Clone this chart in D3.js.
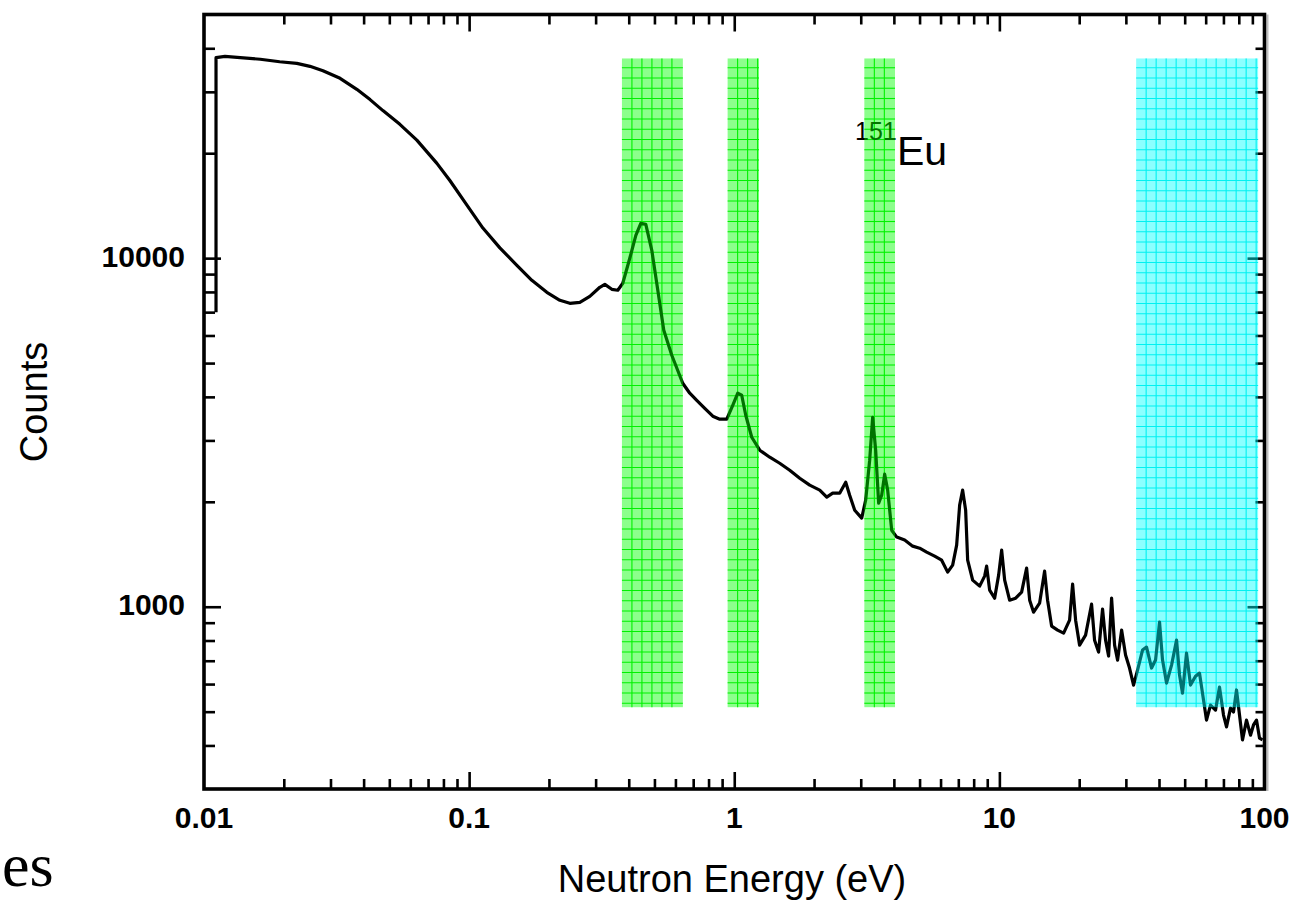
<!DOCTYPE html>
<html>
<head>
<meta charset="utf-8">
<script src="https://cdn.jsdelivr.net/npm/d3@7"></script>
<style>
  html, body { margin: 0; padding: 0; background: #ffffff; }
  svg { display: block; }
  .tick-label { font-family: "Liberation Sans", Arial, Helvetica, sans-serif; font-weight: bold; font-size: 30px; fill: #000; }
  .title { font-family: "Liberation Sans", Arial, Helvetica, sans-serif; font-size: 38px; fill: #000; }
  .serif { font-family: "Liberation Serif", "Times New Roman", serif; font-size: 62px; fill: #000; }
</style>
</head>
<body>
<svg id="chart" width="1292" height="902"></svg>
<script>
// Neutron time-of-flight spectrum (counts vs. neutron energy)
const energy = [
  0.0111, 0.0111, 0.0120, 0.0137, 0.0163, 0.0193, 0.0224, 0.0251, 0.0281, 0.0326,
  0.0377, 0.0423, 0.0473, 0.0548, 0.0635, 0.0756, 0.0846, 0.0981, 0.1127, 0.1306,
  0.1514, 0.1724, 0.1964, 0.2199, 0.2398, 0.2616, 0.2852, 0.3111, 0.3250, 0.3453,
  0.3637, 0.3798, 0.4036, 0.4254, 0.4442, 0.4639, 0.4887, 0.5148, 0.5423, 0.5813,
  0.6393, 0.6796, 0.7221, 0.7742, 0.830, 0.882, 0.937, 0.987, 1.031, 1.067,
  1.105, 1.164, 1.248, 1.361, 1.484, 1.619, 1.766, 1.926, 2.101, 2.233,
  2.351, 2.498, 2.633, 2.725, 2.847, 3.025, 3.131, 3.242, 3.327, 3.415,
  3.505, 3.598, 3.693, 3.790, 3.925, 4.100, 4.393, 4.710, 5.004, 5.317,
  5.699, 6.058, 6.382, 6.665, 6.900, 7.082, 7.269, 7.461, 7.592, 7.929,
  8.425, 8.799, 8.953, 9.189, 9.596, 9.935, 10.20, 10.47, 10.93, 11.52,
  12.13, 12.67, 13.01, 13.46, 14.18, 14.81, 15.20, 15.74, 16.58, 17.47,
  18.40, 18.89, 19.39, 20.07, 21.14, 22.27, 22.86, 23.67, 24.50, 25.15,
  25.82, 26.50, 27.20, 27.92, 28.91, 29.92, 30.97, 32.07, 33.20, 34.67,
  35.90, 37.50, 38.82, 40.19, 41.25, 42.71, 44.61, 46.59, 47.81, 49.07,
  50.80, 52.60, 54.93, 56.87, 58.88, 60.43, 62.57, 65.34, 67.66, 70.05,
  71.90, 74.44, 76.40, 78.42, 80.49, 82.61, 85.53, 88.56, 90.89, 93.29,
  95.74, 98.28
];
const counts = [
  7000, 37600, 37900, 37600, 37200, 36600, 36200, 35500, 34500, 32800,
  30500, 28500, 26500, 24200, 21800, 18700, 16700, 14200, 12200, 10700,
  9540, 8640, 7980, 7570, 7420, 7470, 7770, 8250, 8410, 8140,
  8090, 8470, 9990, 11630, 12580, 12500, 10530, 8090, 6210, 5265,
  4377, 4097, 3911, 3710, 3520, 3451, 3451, 3784, 4097, 4044,
  3542, 3064, 2812, 2685, 2580, 2464, 2337, 2232, 2160, 2062,
  2117, 2117, 2276, 2089, 1892, 1795, 2021, 2633, 3496, 2812,
  1982, 2089, 2400, 2160, 1658, 1584, 1553, 1492, 1472, 1434,
  1397, 1360, 1257, 1316, 1502, 1956, 2160, 1892, 1360, 1192,
  1146, 1224, 1308, 1116, 1058, 1232, 1453, 1192, 1044, 1058,
  1101, 1290, 1044, 965, 1024, 1265, 1044, 880, 857, 840,
  915, 1161, 915, 776, 829, 1017, 802, 741, 984, 802,
  722, 1058, 776, 703, 857, 727, 667, 596, 658, 751,
  766, 667, 703, 903, 703, 604, 680, 802, 637, 565,
  736, 596, 632, 645, 540, 473, 522, 505, 588, 489,
  452, 512, 499, 577, 489, 415, 473, 428, 458, 473,
  420, 415
];

// Axis ticks and labels
const xMajor = [0.01, 0.1, 1, 10, 100];
const xTickLabels = ["0.01", "0.1", "1", "10", "100"];
const yMajor = [1000, 10000];
const yTickLabels = ["1000", "10000"];
const xDomain = [0.01, 100];
const yDomain = [300, 50000];

// Highlighted energy windows (resonance regions)
const windowLow  = [0.377, 0.944, 3.095, 32.8];
const windowHigh = [0.64, 1.24, 4.04, 94.6];
const windowColor = ["#00ff00", "#00ff00", "#00ff00", "#00ffff"];
const windowGrid  = ["#00e600", "#00e600", "#00e600", "#00e6e6"];
const windowTop = 37400;
const windowBottom = 515;

const xTitle = "Neutron Energy (eV)";
const yTitle = "Counts";

// ---------------------------------------------------------------
const svg = d3.select("#chart");
const plotLeft = 204, plotRight = 1264.5, plotTop = 14.5, plotBottom = 789;

const x = d3.scaleLog().domain(xDomain).range([plotLeft, plotRight]);
const y = d3.scaleLog().domain(yDomain).range([plotBottom, plotTop]);

const data = energy.map((e, i) => ({ e, c: counts[i] }));

// Grid lines inside each window (drawn beneath the curve)
const gridLayer = svg.append("g");
windowLow.forEach((lo, i) => {
  const x0 = x(lo), x1 = x(windowHigh[i]);
  const y0 = y(windowTop), y1 = y(windowBottom);
  const g = gridLayer.append("g").attr("stroke", windowGrid[i]).attr("stroke-width", 1.1);
  d3.range(x0 + 10, x1 - 1, 10).forEach(v => {
    g.append("line").attr("x1", v).attr("x2", v).attr("y1", y0).attr("y2", y1);
  });
  d3.range(y0 + 9.3, y1 - 1, 10.25).forEach(v => {
    g.append("line").attr("x1", x0).attr("x2", x1).attr("y1", v).attr("y2", v);
  });
});

// Tick marks (all pointing inward)
const xAll = x.ticks().filter(v => v > xDomain[0] * 1.001 && v < xDomain[1] * 0.999);
const xMinor = xAll.filter(v => !xMajor.some(m => Math.abs(m - v) / m < 1e-6));
const yAll = y.ticks().filter(v => v > yDomain[0] * 1.001 && v < yDomain[1] * 0.999);
const yMinor = yAll.filter(v => !yMajor.some(m => Math.abs(m - v) / m < 1e-6));

function styleTicks(g) {
  g.select(".domain").remove();
  g.selectAll(".tick line").attr("stroke", "#000").attr("stroke-width", 2.6);
}

const tickLayer = svg.append("g");
// bottom
tickLayer.append("g").attr("transform", `translate(0,${plotBottom})`)
  .call(d3.axisBottom(x).tickValues(xMinor).tickSize(-10).tickFormat(""))
  .call(styleTicks);
tickLayer.append("g").attr("transform", `translate(0,${plotBottom})`)
  .call(d3.axisBottom(x).tickValues(xMajor.slice(1, -1)).tickSize(-17).tickFormat(""))
  .call(styleTicks);
// top
tickLayer.append("g").attr("transform", `translate(0,${plotTop})`)
  .call(d3.axisTop(x).tickValues(xMinor).tickSize(-10).tickFormat(""))
  .call(styleTicks);
tickLayer.append("g").attr("transform", `translate(0,${plotTop})`)
  .call(d3.axisTop(x).tickValues(xMajor.slice(1, -1)).tickSize(-17).tickFormat(""))
  .call(styleTicks);
// left
tickLayer.append("g").attr("transform", `translate(${plotLeft},0)`)
  .call(d3.axisLeft(y).tickValues(yMinor).tickSize(-11).tickFormat(""))
  .call(styleTicks);
tickLayer.append("g").attr("transform", `translate(${plotLeft},0)`)
  .call(d3.axisLeft(y).tickValues(yMajor).tickSize(-17).tickFormat(""))
  .call(styleTicks);
// right
tickLayer.append("g").attr("transform", `translate(${plotRight},0)`)
  .call(d3.axisRight(y).tickValues(yMinor).tickSize(-9).tickFormat(""))
  .call(styleTicks);
tickLayer.append("g").attr("transform", `translate(${plotRight},0)`)
  .call(d3.axisRight(y).tickValues(yMajor).tickSize(-17).tickFormat(""))
  .call(styleTicks);

// Spectrum
const line = d3.line().x(d => x(d.e)).y(d => y(d.c));
svg.append("path")
  .datum(data)
  .attr("d", line)
  .attr("fill", "none")
  .attr("stroke", "#000")
  .attr("stroke-width", 3.2)
  .attr("stroke-linejoin", "round");

// Isotope label: mass number sits beneath the window tint
const isoX = 855, isoBase = 165;
svg.append("text")
  .attr("x", isoX).attr("y", isoBase - 25)
  .attr("font-family", "Liberation Sans, Arial, sans-serif")
  .attr("font-size", 25)
  .text("151");

// Translucent window fills
svg.append("g").selectAll("rect")
  .data(windowLow)
  .join("rect")
  .attr("x", (d) => x(d))
  .attr("width", (d, i) => x(windowHigh[i]) - x(d))
  .attr("y", y(windowTop))
  .attr("height", y(windowBottom) - y(windowTop))
  .attr("fill", (d, i) => windowColor[i])
  .attr("fill-opacity", 0.45);

svg.append("text")
  .attr("x", isoX + 42).attr("y", isoBase)
  .attr("font-family", "Liberation Sans, Arial, sans-serif")
  .attr("font-size", 41)
  .text("Eu");

// Frame
svg.append("line")
  .attr("x1", plotRight + 3).attr("x2", plotRight + 3)
  .attr("y1", plotTop).attr("y2", plotBottom + 2)
  .attr("stroke", "#bdbdbd").attr("stroke-width", 2);
svg.append("rect")
  .attr("x", plotLeft).attr("y", plotTop)
  .attr("width", plotRight - plotLeft).attr("height", plotBottom - plotTop)
  .attr("fill", "none").attr("stroke", "#000").attr("stroke-width", 3.6);

// Tick labels
svg.append("g").selectAll("text")
  .data(xMajor)
  .join("text")
  .attr("class", "tick-label")
  .attr("x", d => x(d))
  .attr("y", plotBottom + 39)
  .attr("text-anchor", "middle")
  .text((d, i) => xTickLabels[i]);

svg.append("g").selectAll("text")
  .data(yMajor)
  .join("text")
  .attr("class", "tick-label")
  .attr("x", plotLeft - 19)
  .attr("y", d => y(d))
  .attr("dy", "0.28em")
  .attr("text-anchor", "end")
  .text((d, i) => yTickLabels[i]);

// Axis titles
svg.append("text")
  .attr("class", "title")
  .attr("x", 732).attr("y", 892)
  .attr("text-anchor", "middle")
  .text(xTitle);

svg.append("text")
  .attr("class", "title")
  .attr("transform", "translate(47,402) rotate(-90)")
  .attr("text-anchor", "middle")
  .text(yTitle);

// Fragment of surrounding text at the lower-left edge
svg.append("text")
  .attr("class", "serif")
  .attr("x", 2).attr("y", 886)
  .text("es");
</script>
</body>
</html>
